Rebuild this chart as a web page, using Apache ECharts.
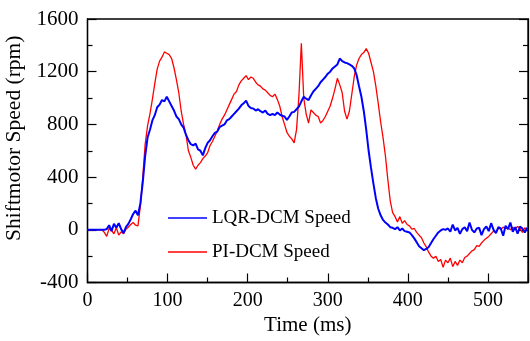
<!DOCTYPE html>
<html>
<head>
<meta charset="utf-8">
<script src="https://cdn.jsdelivr.net/npm/echarts@6/dist/echarts.min.js"></script>
<style>html,body{margin:0;padding:0;background:#fff}#c{width:530px;height:341px}</style>
</head>
<body>
<div id="c"></div>
<script>
// time samples (ms), every 3 ms
const times = [0,3,6,9,12,15,18,21,24,27,30,33,36,39,42,45,48,51,54,57,60,63,66,69,72,75,78,81,84,87,90,93,96,99,102,105,108,111,114,117,120,123,126,129,132,135,138,141,144,147,150,153,156,159,162,165,168,171,174,177,180,183,186,189,192,195,198,201,204,207,210,213,216,219,222,225,228,231,234,237,240,243,246,249,252,255,258,261,264,267,270,273,276,279,282,285,288,291,294,297,300,303,306,309,312,315,318,321,324,327,330,333,336,339,342,345,348,351,354,357,360,363,366,369,372,375,378,381,384,387,390,393,396,399,402,405,408,411,414,417,420,423,426,429,432,435,438,441,444,447,450,453,456,459,462,465,468,471,474,477,480,483,486,489,492,495,498,501,504,507,510,513,516,519,522,525,528,531,534,537,540,543,546,549];

const lqrSpeed = [0,0,0,0,0,0,0,0,5,35,-10,45,15,50,5,-25,20,45,80,120,145,110,200,360,560,700,760,830,870,930,950,985,975,1010,975,940,905,860,840,800,775,720,680,650,640,655,610,600,565,620,660,680,710,735,745,780,790,800,830,840,860,880,900,920,945,960,980,940,925,920,905,915,900,890,905,880,870,880,870,890,875,865,860,835,860,890,895,915,935,975,1010,995,985,1020,1050,1070,1090,1120,1140,1160,1185,1200,1225,1240,1255,1300,1280,1270,1265,1255,1245,1225,1175,1090,1010,900,760,600,470,350,240,160,110,75,55,40,20,15,5,20,-5,10,-10,-15,-20,-40,-65,-95,-125,-140,-155,-145,-130,-100,-70,-45,-20,-5,5,0,10,-15,40,-5,15,-30,5,20,-10,55,0,-20,10,15,-40,5,25,-10,50,0,-25,20,10,-45,30,5,55,-15,20,-30,25,10,-20,15];

const piSpeed = [0,0,0,0,0,0,0,-20,-50,10,-5,-30,15,-40,-15,-30,5,20,40,55,35,30,180,400,650,790,880,990,1110,1220,1280,1310,1350,1340,1330,1300,1230,1140,1040,900,800,720,600,550,490,460,490,510,540,560,585,640,670,710,750,800,840,870,910,950,990,1030,1050,1100,1130,1150,1170,1140,1160,1150,1120,1100,1090,1070,1060,1040,1020,1010,1030,990,940,860,800,740,710,690,660,760,1020,1415,1000,880,810,910,890,870,860,810,830,860,900,940,1000,1070,1150,1100,1040,900,840,900,1030,1160,1250,1300,1330,1345,1375,1340,1270,1200,1090,960,820,700,560,380,220,130,100,60,100,50,70,40,30,5,10,-20,-40,-60,-100,-130,-170,-200,-215,-200,-240,-225,-285,-230,-250,-215,-280,-240,-270,-230,-250,-210,-200,-180,-160,-150,-120,-125,-100,-80,-65,-50,-30,-10,-15,10,5,20,10,15,0,20,5,25,10,-20,15,5];

const xTicks = {min: 0, max: 550, interval: 100};
const yTicks = {min: -400, max: 1600, interval: 400};
const seriesNames = ['LQR-DCM Speed', 'PI-DCM Speed'];

const font = 'Liberation Serif';
const pair = (vals) => times.map((t, i) => [t, vals[i]]);

const chart = echarts.init(document.getElementById('c'), null, {renderer: 'canvas'});
chart.setOption({
  animation: false,
  backgroundColor: '#fff',
  grid: {left: 87.5, right: 2, top: 19, bottom: 58.5, outerBoundsMode: 'none', containLabel: false, show: true, borderColor: '#000', borderWidth: 1.3, backgroundColor: 'transparent'},
  legend: {
    data: seriesNames,
    orient: 'vertical',
    left: 163, top: 203,
    icon: 'rect',
    itemWidth: 39, itemHeight: 1.5,
    itemGap: 14,
    textStyle: {fontFamily: font, fontSize: 19, color: '#000', lineHeight: 20},
  },
  xAxis: [{
    type: 'value', min: xTicks.min, max: xTicks.max, interval: xTicks.interval,
    name: 'Time (ms)', nameLocation: 'middle', nameGap: 31,
    nameTextStyle: {fontFamily: font, fontSize: 21, color: '#000'},
    axisLine: {onZero: false, lineStyle: {color: '#000', width: 1.3}},
    axisTick: {inside: true, length: 9, lineStyle: {color: '#000', width: 1.2}},
    minorTick: {show: true, splitNumber: 2, length: 5, lineStyle: {color: '#000', width: 1.2}},
    axisLabel: {fontFamily: font, fontSize: 20, color: '#000', margin: 8, showMaxLabel: false},
    splitLine: {show: false}
  }],
  yAxis: [{
    type: 'value', min: yTicks.min, max: yTicks.max, interval: yTicks.interval,
    name: 'Shiftmotor Speed (rpm)', nameLocation: 'middle', nameGap: 52,
    nameTextStyle: {fontFamily: font, fontSize: 21.5, color: '#000', padding: [0, 0, 0, 25]},
    axisLine: {show: true, onZero: false, lineStyle: {color: '#000', width: 1.3}},
    axisTick: {inside: true, length: 9, lineStyle: {color: '#000', width: 1.2}},
    minorTick: {show: true, splitNumber: 2, length: 5, lineStyle: {color: '#000', width: 1.2}},
    axisLabel: {fontFamily: font, fontSize: 21, color: '#000', margin: 9, formatter: (v) => String(v)},
    splitLine: {show: false}
  }, {
    type: 'value', position: 'right', min: yTicks.min, max: yTicks.max, interval: yTicks.interval,
    axisLine: {show: true, onZero: false, lineStyle: {color: '#000', width: 1.3}},
    axisTick: {inside: true, length: 9, lineStyle: {color: '#000', width: 1.2}},
    minorTick: {show: true, splitNumber: 2, length: 5, lineStyle: {color: '#000', width: 1.2}},
    axisLabel: {show: false},
    splitLine: {show: false}
  }],
  series: [{
    name: seriesNames[0], type: 'line', data: pair(lqrSpeed), showSymbol: false, z: 3,
    color: '#0000ff', lineStyle: {color: '#0000ff', width: 2}
  }, {
    name: seriesNames[1], type: 'line', data: pair(piSpeed), showSymbol: false, z: 2,
    color: '#ff0000', lineStyle: {color: '#ff0000', width: 1.3}
  }]
});
</script>
</body>
</html>
